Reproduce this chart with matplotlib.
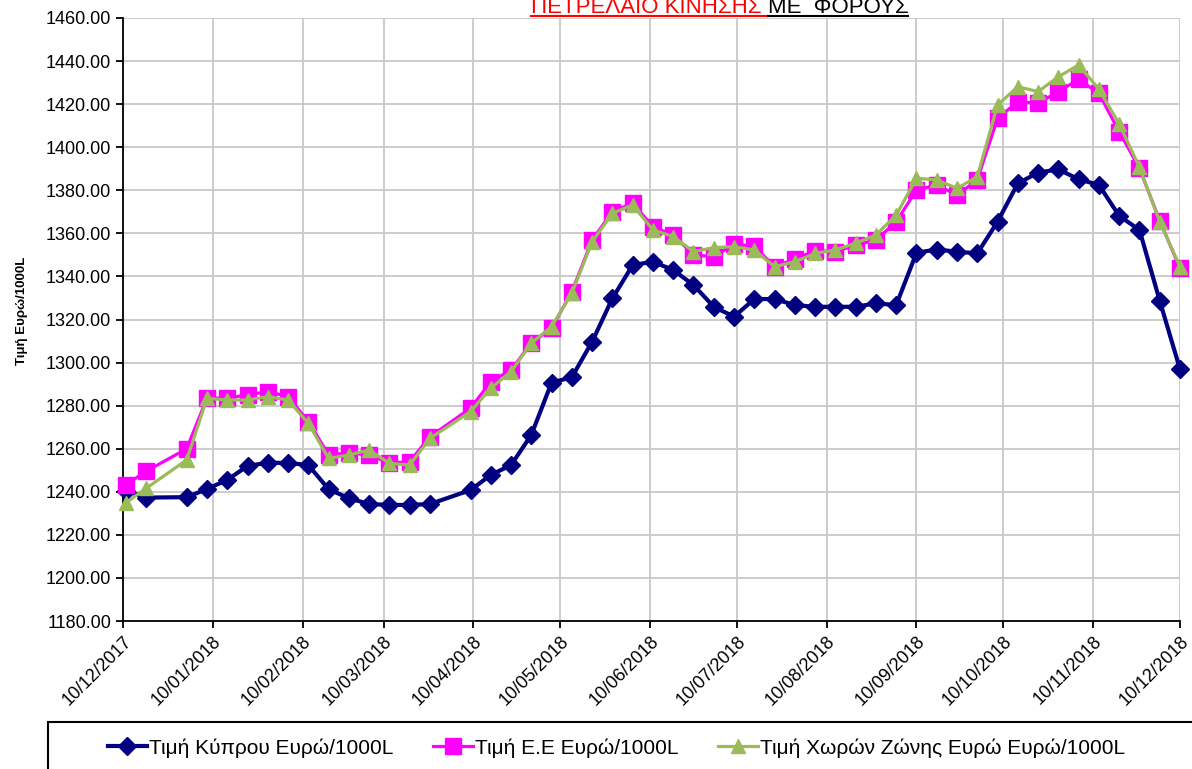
import matplotlib
matplotlib.use('Agg')
import matplotlib.pyplot as plt
import matplotlib.dates as mdates
from matplotlib.patches import Rectangle
from matplotlib.lines import Line2D
from matplotlib.ticker import FormatStrFormatter
import numpy as np
import pandas as pd

plt.rcParams['font.family'] = ['Liberation Sans', 'DejaVu Sans']

# weekly prices (Euro / 1000L)
dates = ['11/12/2017', '18/12/2017', '01/01/2018', '08/01/2018', '15/01/2018',
         '22/01/2018', '29/01/2018', '05/02/2018', '12/02/2018', '19/02/2018',
         '26/02/2018', '05/03/2018', '12/03/2018', '19/03/2018', '26/03/2018',
         '09/04/2018', '16/04/2018', '23/04/2018', '30/04/2018', '07/05/2018',
         '14/05/2018', '21/05/2018', '28/05/2018', '04/06/2018', '11/06/2018',
         '18/06/2018', '25/06/2018', '02/07/2018', '09/07/2018', '16/07/2018',
         '23/07/2018', '30/07/2018', '06/08/2018', '13/08/2018', '20/08/2018',
         '27/08/2018', '03/09/2018', '10/09/2018', '17/09/2018', '24/09/2018',
         '01/10/2018', '08/10/2018', '15/10/2018', '22/10/2018', '29/10/2018',
         '05/11/2018', '12/11/2018', '19/11/2018', '26/11/2018', '03/12/2018',
         '10/12/2018']

cyprus = [1240.5, 1237.3, 1237.5, 1241.3, 1245.5, 1252.0, 1253.5, 1253.4, 1252.4, 1241.2,
          1237.0, 1234.3, 1233.9, 1233.9, 1234.3, 1240.8, 1247.8, 1252.4, 1266.4, 1290.7,
          1293.2, 1309.7, 1329.8, 1345.3, 1346.8, 1343.0, 1336.0, 1325.9, 1321.3, 1329.5,
          1329.5, 1326.7, 1325.9, 1325.9, 1325.9, 1327.5, 1326.7, 1351.0, 1352.5, 1351.5,
          1350.7, 1365.4, 1383.2, 1388.2, 1389.7, 1385.1, 1382.5, 1368.1, 1361.6, 1328.7,
          1296.9]

eu = [1243.3, 1249.5, 1260.0, 1283.5, 1283.5, 1285.0, 1286.5, 1284.2, 1272.6, 1257.2,
      1258.0, 1257.2, 1253.3, 1254.0, 1265.6, 1278.8, 1291.1, 1296.6, 1309.0, 1315.9,
      1332.9, 1356.9, 1370.1, 1374.0, 1363.1, 1359.2, 1350.0, 1349.2, 1355.0, 1354.0,
      1344.5, 1348.0, 1352.0, 1351.5, 1354.6, 1356.9, 1365.4, 1380.1, 1382.5, 1377.8,
      1384.8, 1413.4, 1421.1, 1420.4, 1425.8, 1431.5, 1425.0, 1407.2, 1390.2, 1365.9,
      1343.8]

eurozone = [1234.9, 1241.6, 1254.8, 1283.4, 1282.6, 1282.6, 1284.2, 1282.6, 1271.8, 1255.5,
            1257.1, 1259.4, 1253.2, 1252.4, 1264.8, 1277.2, 1288.1, 1295.8, 1309.0, 1316.7,
            1332.2, 1356.1, 1369.3, 1373.2, 1361.6, 1358.5, 1351.5, 1353.4, 1353.8, 1352.3,
            1344.5, 1346.8, 1350.7, 1352.3, 1355.4, 1359.2, 1368.5, 1385.6, 1384.8, 1380.9,
            1386.3, 1419.6, 1428.1, 1425.8, 1432.7, 1438.2, 1426.9, 1410.8, 1390.7, 1365.4,
            1344.5]

xtick_dates = ['10/12/2017', '10/01/2018', '10/02/2018', '10/03/2018', '10/04/2018',
               '10/05/2018', '10/06/2018', '10/07/2018', '10/08/2018', '10/09/2018',
               '10/10/2018', '10/11/2018', '10/12/2018']

labels = ['Τιμή Κύπρου Ευρώ/1000L', 'Τιμή Ε.Ε Ευρώ/1000L',
          'Τιμή Χωρών Ζώνης Ευρώ Ευρώ/1000L']

x = pd.to_datetime(dates, format='%d/%m/%Y')
xt = pd.to_datetime(xtick_dates, format='%d/%m/%Y')

W, H = 1192, 769
fig = plt.figure(figsize=(W / 100, H / 100), dpi=100)
ax = fig.add_axes([123 / W, 1 - 621 / H, (1180 - 123) / W, (621 - 18) / H])

l1, = ax.plot(x, cyprus, color='#000080', lw=3, marker='D', ms=9.5,
              clip_on=False, zorder=3)
l2, = ax.plot(x, eu, color='#FF00FF', lw=2.3, marker='s', ms=11,
              clip_on=False, zorder=4)
l3, = ax.plot(x, eurozone, color='#9BBB59', lw=2.3, marker='^', ms=10.5,
              clip_on=False, zorder=5)

ax.set_xlim(xt[0], xt[-1])
ax.set_ylim(1180, 1460)
ax.set_yticks(np.arange(1180, 1461, 20))
ax.yaxis.set_major_formatter(FormatStrFormatter('%.2f'))
ax.set_xticks(xt)
ax.xaxis.set_major_formatter(mdates.DateFormatter('%d/%m/%Y'))
ax.grid(True, color='#C8C8C8', lw=1.3)
ax.set_axisbelow(True)
for s in ['top', 'right']:
    ax.spines[s].set_visible(False)
for s in ['left', 'bottom']:
    ax.spines[s].set_linewidth(1.3)
ax.tick_params(direction='out', length=5, width=1.3, labelsize=13)
for lab in ax.get_xticklabels():
    lab.set_rotation(45)
    lab.set_ha('right')
    lab.set_va('top')
    lab.set_rotation_mode('anchor')

ax.set_ylabel('Τιμή Ευρώ/1000L', fontsize=9.5, fontweight='bold')
ax.yaxis.set_label_coords(-95 / (1180 - 123), 0.515)

# legend box runs off the figure edge
fig.add_artist(Rectangle((48 / W, -0.05), 1.2, (769 - 722) / H + 0.05,
                         transform=fig.transFigure, fill=False,
                         ec='black', lw=1.5, clip_on=False))
fig.legend([l1, l2, l3], labels, loc='center', bbox_to_anchor=(0.517, 1 - 748 / H),
           ncol=3, frameon=False, fontsize=15, handlelength=1.9,
           handletextpad=0.1, columnspacing=1.9)

# title (cut at top, underlined)
t1 = fig.text(531 / W, 1 - 13 / H, 'ΠΕΤΡΕΛΑΙΟ ΚΙΝΗΣΗΣ', color='red',
              fontsize=16, ha='left', va='baseline')
fig.canvas.draw()
r = fig.canvas.get_renderer()
bb1 = t1.get_window_extent(r)
sp = 0.278 * 16 * 100 / 72
t2 = fig.text((bb1.x1 + sp) / W, 1 - 13 / H, 'ΜΕ  ΦΟΡΟΥΣ', color='black',
              fontsize=16, ha='left', va='baseline')
bb2 = t2.get_window_extent(r)
uy = 1 - 15.5 / H
fig.add_artist(Line2D([bb1.x0 / W, (bb1.x1 + sp) / W], [uy, uy], color='red',
                      lw=1.5, transform=fig.transFigure))
fig.add_artist(Line2D([(bb1.x1 + sp) / W, bb2.x1 / W], [uy, uy], color='black',
                      lw=1.5, transform=fig.transFigure))

fig.savefig('out.png', dpi=100)
